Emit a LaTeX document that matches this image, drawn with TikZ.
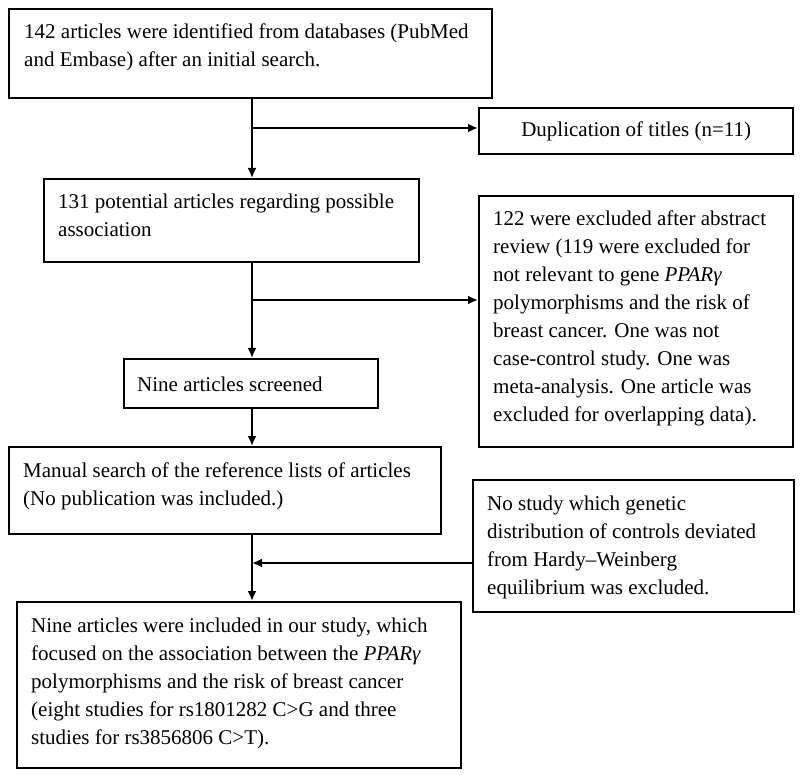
\documentclass[tikz,border=0pt]{standalone}
\usepackage{fontspec}
\setmainfont{Liberation Serif}
\usetikzlibrary{arrows.meta,positioning}
\tikzset{
  box/.style={draw, line width=2.4pt, rectangle, inner sep=0pt, anchor=north west},
  txt/.style={anchor=north west, inner sep=0pt, align=left, font=\fontsize{21}{28}\selectfont},
  ctxt/.style={inner sep=0pt, font=\fontsize{21}{28}\selectfont},
  arr/.style={line width=2.1pt, -{Latex[length=10pt,width=9pt]}},
  ln/.style={line width=2.1pt}
}
\begin{document}
\begin{tikzpicture}[x=1pt,y=-1pt]
\useasboundingbox (0,0) rectangle (800,775);
% boxes
\node[box, minimum width=483pt, minimum height=89pt] (b1) at (8,8) {};
\node[box, minimum width=314pt, minimum height=46pt] (dup) at (478,107) {};
\node[box, minimum width=375pt, minimum height=83pt] (b2) at (43,178) {};
\node[box, minimum width=314pt, minimum height=251pt] (ex) at (478,195) {};
\node[box, minimum width=254pt, minimum height=49pt] (nine) at (123,358) {};
\node[box, minimum width=432pt, minimum height=87pt] (man) at (8,446) {};
\node[box, minimum width=321pt, minimum height=132pt] (hw) at (472,479) {};
\node[box, minimum width=444pt, minimum height=166pt] (fin) at (16,601) {};
% texts
\node[txt] (t1) at (24,24) {142 articles were identified from databases (PubMed\\and Embase) after an initial search.};
\node[ctxt] (tdup) at (dup.center) {Duplication of titles (n=11)};
\node[txt] (t2) at (58,194) {131 potential articles regarding possible\\association};
\node[txt] (tex) at (493,211) {122 were excluded after abstract\\review (119 were excluded for\\not relevant to gene \textit{PPARγ}\\polymorphisms and the risk of\\breast cancer. One was not\\case-control study. One was\\meta-analysis. One article was\\excluded for overlapping data).};
\node[ctxt, anchor=west] (tnine) at (137,384) {Nine articles screened};
\node[txt] (tman) at (23,463) {Manual search of the reference lists of articles\\(No publication was included.)};
\node[txt] (thw) at (487,496) {No study which genetic\\distribution of controls deviated\\from Hardy–Weinberg\\equilibrium was excluded.};
\node[txt] (tfin) at (31,618) {Nine articles were included in our study, which\\focused on the association between the \textit{PPARγ}\\polymorphisms and the risk of breast cancer\\(eight studies for rs1801282 C>G and three\\studies for rs3856806 C>T).};
% connectors
\coordinate (sp) at (252,0);
\coordinate (j1) at (252,128);
\coordinate (j2) at (252,300);
\coordinate (j3) at (252,563);
\draw[arr] (b1.south -| sp) -- (b2.north -| sp);
\draw[arr] (j1) -- (j1 -| dup.west);
\draw[arr] (b2.south -| sp) -- (nine.north -| sp);
\draw[arr] (j2) -- (j2 -| ex.west);
\draw[arr] (nine.south -| sp) -- (man.north -| sp);
\draw[arr] (man.south -| sp) -- (fin.north -| sp);
\draw[arr] (j3 -| hw.west) -- (j3);
\end{tikzpicture}
\end{document}
